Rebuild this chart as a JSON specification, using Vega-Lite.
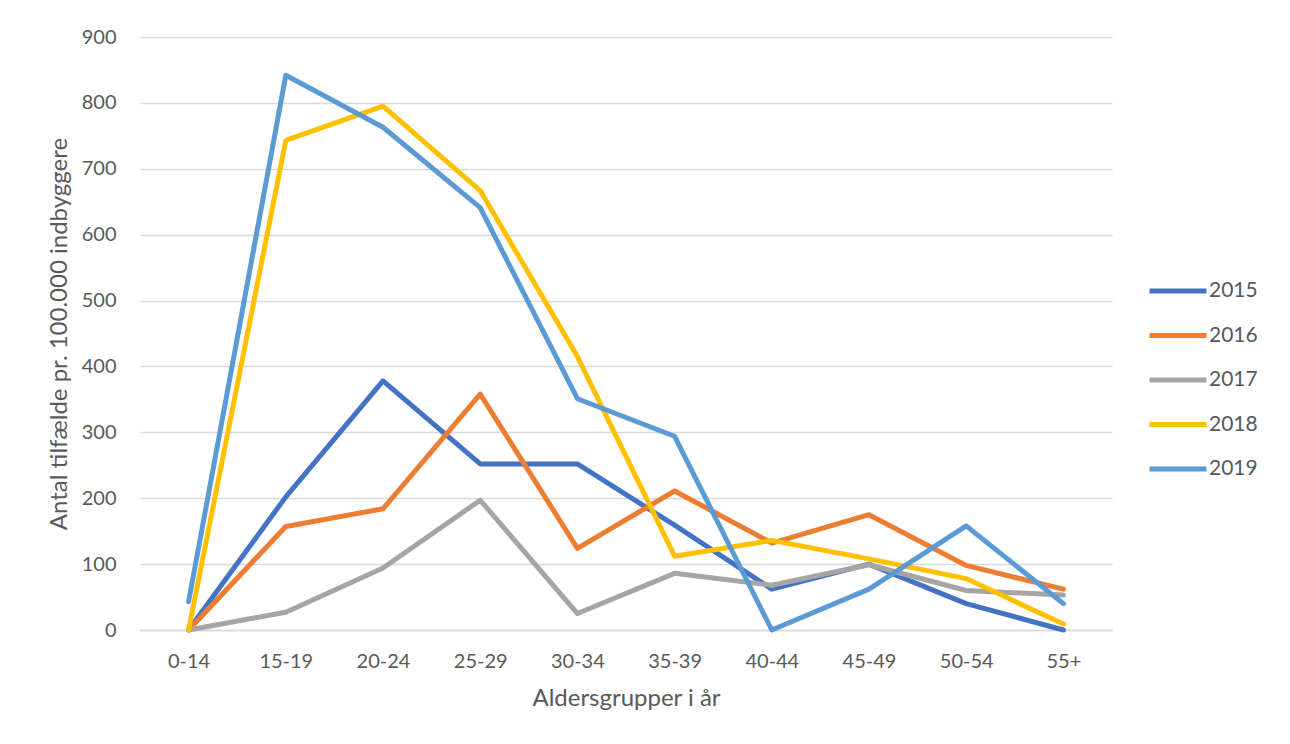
{
  "$schema": "https://vega.github.io/schema/vega-lite/v6.json",
  "width": 972,
  "height": 593,
  "autosize": "none",
  "padding": {"left": 140, "top": 37, "right": 178, "bottom": 114},
  "background": "white",
  "config": {
    "view": {"stroke": null},
    "font": "Lato",
    "axis": {"labelFont": "Lato", "titleFont": "Lato", "labelColor": "#595959", "titleColor": "#595959", "labelFontSize": 20, "titleFontSize": 24, "titleFontWeight": "normal"},
    "legend": {"labelFont": "Lato", "labelColor": "#595959", "labelFontSize": 21}
  },
  "data": {
    "values": [
      {"age": "0-14", "year": "2015", "value": 0},
      {"age": "15-19", "year": "2015", "value": 202},
      {"age": "20-24", "year": "2015", "value": 378},
      {"age": "25-29", "year": "2015", "value": 252},
      {"age": "30-34", "year": "2015", "value": 252},
      {"age": "35-39", "year": "2015", "value": 159},
      {"age": "40-44", "year": "2015", "value": 62},
      {"age": "45-49", "year": "2015", "value": 100},
      {"age": "50-54", "year": "2015", "value": 40},
      {"age": "55+", "year": "2015", "value": 0},
      {"age": "0-14", "year": "2016", "value": 0},
      {"age": "15-19", "year": "2016", "value": 157},
      {"age": "20-24", "year": "2016", "value": 184},
      {"age": "25-29", "year": "2016", "value": 358},
      {"age": "30-34", "year": "2016", "value": 124},
      {"age": "35-39", "year": "2016", "value": 211},
      {"age": "40-44", "year": "2016", "value": 132},
      {"age": "45-49", "year": "2016", "value": 175},
      {"age": "50-54", "year": "2016", "value": 98},
      {"age": "55+", "year": "2016", "value": 62},
      {"age": "0-14", "year": "2017", "value": 0},
      {"age": "15-19", "year": "2017", "value": 27},
      {"age": "20-24", "year": "2017", "value": 94},
      {"age": "25-29", "year": "2017", "value": 197},
      {"age": "30-34", "year": "2017", "value": 25},
      {"age": "35-39", "year": "2017", "value": 86},
      {"age": "40-44", "year": "2017", "value": 68},
      {"age": "45-49", "year": "2017", "value": 99},
      {"age": "50-54", "year": "2017", "value": 60},
      {"age": "55+", "year": "2017", "value": 53},
      {"age": "0-14", "year": "2018", "value": 0},
      {"age": "15-19", "year": "2018", "value": 743},
      {"age": "20-24", "year": "2018", "value": 795},
      {"age": "25-29", "year": "2018", "value": 667},
      {"age": "30-34", "year": "2018", "value": 415},
      {"age": "35-39", "year": "2018", "value": 112},
      {"age": "40-44", "year": "2018", "value": 136},
      {"age": "45-49", "year": "2018", "value": 108},
      {"age": "50-54", "year": "2018", "value": 78},
      {"age": "55+", "year": "2018", "value": 9},
      {"age": "0-14", "year": "2019", "value": 43},
      {"age": "15-19", "year": "2019", "value": 842},
      {"age": "20-24", "year": "2019", "value": 763},
      {"age": "25-29", "year": "2019", "value": 641},
      {"age": "30-34", "year": "2019", "value": 351},
      {"age": "35-39", "year": "2019", "value": 294},
      {"age": "40-44", "year": "2019", "value": 0},
      {"age": "45-49", "year": "2019", "value": 62},
      {"age": "50-54", "year": "2019", "value": 158},
      {"age": "55+", "year": "2019", "value": 40}
    ]
  },
  "mark": {"type": "line", "strokeWidth": 5, "strokeCap": "round", "strokeJoin": "round"},
  "encoding": {
    "x": {
      "field": "age", "type": "ordinal", "sort": null,
      "scale": {"type": "point", "padding": 0.5},
      "axis": {"title": "Aldersgrupper i år", "labelAngle": 0, "ticks": false, "domain": true, "domainColor": "#d9d9d9", "domainWidth": 1.5, "grid": false, "labelPadding": 21, "titlePadding": 15}
    },
    "y": {
      "field": "value", "type": "quantitative",
      "scale": {"domain": [0, 900], "nice": false},
      "axis": {"title": "Antal tilfælde pr. 100.000 indbyggere", "values": [0,100,200,300,400,500,600,700,800,900], "ticks": false, "domain": false, "gridColor": "#d9d9d9", "gridWidth": 1.5, "labelPadding": 24, "titlePadding": 10}
    },
    "color": {
      "field": "year", "type": "nominal",
      "scale": {"domain": ["2015","2016","2017","2018","2019"], "range": ["#4472C4","#ED7D31","#A5A5A5","#FFC000","#5B9BD5"]},
      "legend": {"title": null, "orient": "none", "legendX": 1007, "legendY": 223, "symbolType": "stroke", "symbolSize": 3249, "symbolStrokeWidth": 5, "rowPadding": 3.5, "labelOffset": 0}
    }
  }
}
